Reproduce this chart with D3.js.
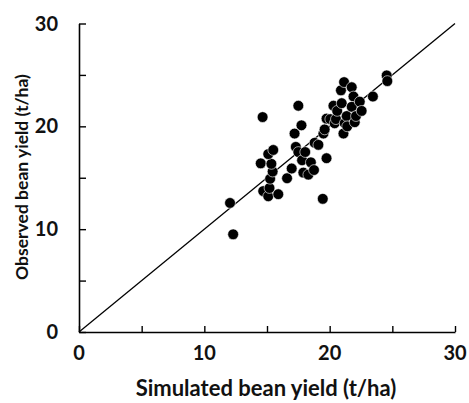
<!DOCTYPE html>
<html><head><meta charset="utf-8">
<script src="https://cdn.jsdelivr.net/npm/d3@7"></script>
<style>body{margin:0;background:#fff}svg{display:block}text{font-family:Lato,"Open Sans",sans-serif;font-weight:bold;fill:#111}</style>
</head><body><div id="chart"></div>
<script>
const simulated = [12.05,12.3,14.65,14.5,14.7,15.1,15.9,15.2,15.25,15.45,15.35,15.1,15.5,16.6,16.97,17.2,17.3,17.5,17.5,17.75,17.8,17.9,18.05,18.3,18.5,18.75,18.8,19.1,19.45,19.75,19.5,19.6,19.75,20.05,20.4,20.5,20.3,20.6,20.96,20.9,21.15,21.1,21.2,21.36,21.4,21.76,21.9,21.76,22.0,22.1,22.4,22.55,23.45,24.55,24.6];
const observed  = [12.55,9.5,20.9,16.4,13.7,13.2,13.4,14.0,14.9,15.6,16.35,17.3,17.7,14.95,15.9,19.3,18.0,22.0,17.5,20.1,16.7,15.5,17.5,15.3,16.5,15.75,18.4,18.2,12.95,16.9,19.3,19.7,20.75,20.7,20.3,20.7,22.0,21.5,22.25,23.5,24.3,19.3,20.3,21.0,20.0,23.8,22.9,21.9,20.4,21.0,22.4,21.5,22.9,24.95,24.4];
const ticks = [0,5,10,15,20,25,30];
const labelTicks = [0,10,20,30];
const xTitle = "Simulated bean yield (t/ha)";
const yTitle = "Observed bean yield (t/ha)";

const W = 469, H = 403;
const svg = d3.select("#chart").append("svg").attr("width", W).attr("height", H);
const x = d3.scaleLinear().domain([0,30]).range([79,455]);
const y = d3.scaleLinear().domain([0,30]).range([332,23.5]);

svg.append("g").attr("transform",`translate(0,${y(0)})`)
  .call(d3.axisBottom(x).tickValues(ticks).tickSizeInner(-6).tickSizeOuter(0).tickFormat(""));
svg.append("g").attr("transform",`translate(${x(0)},0)`)
  .call(d3.axisLeft(y).tickValues(ticks).tickSizeInner(-7).tickSizeOuter(0).tickFormat(""));
svg.selectAll(".domain").attr("stroke","#000").attr("stroke-width",1.6);
svg.selectAll(".tick line").attr("stroke","#000").attr("stroke-width",1.4);

svg.append("g").selectAll("text").data(labelTicks).join("text")
  .attr("x", d => x(d)).attr("y", 360).attr("text-anchor","middle")
  .style("font-size","20px").text(d => d);
svg.append("g").selectAll("text").data(labelTicks).join("text")
  .attr("x", 58).attr("y", d => y(d) + 7).attr("text-anchor","end")
  .style("font-size","20px").text(d => d);

svg.append("line").attr("x1",x(0)).attr("y1",y(0)).attr("x2",x(30)).attr("y2",y(30))
  .attr("stroke","#000").attr("stroke-width",1.3);

svg.append("g").selectAll("circle").data(simulated.map((s,i)=>[s,observed[i]])).join("circle")
  .attr("cx", d => x(d[0])).attr("cy", d => y(d[1])).attr("r",5.4)
  .attr("fill","#000").attr("stroke","#fff").attr("stroke-width",0.6);

svg.append("text").attr("x",266).attr("y",396).attr("text-anchor","middle")
  .style("font-size","22px").text(xTitle);
svg.append("text").attr("transform","translate(28,177) rotate(-90)").attr("text-anchor","middle")
  .style("font-size","17.5px").text(yTitle);
</script></body></html>
